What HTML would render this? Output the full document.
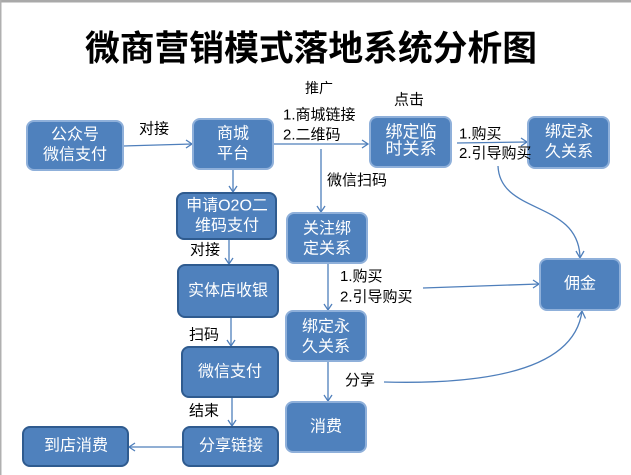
<!DOCTYPE html>
<html>
<head>
<meta charset="utf-8">
<style>
  html,body{margin:0;padding:0;background:#fff;}
  body{width:631px;height:475px;overflow:hidden;}
  svg{display:block;}
  .bx{fill:#4f81bd;}
  .glow{stroke:#8fb0da;stroke-width:2;}
  .dark{stroke:#2f5b8f;stroke-width:2;}
  .bt{fill:#fff;font-family:"Liberation Sans","Noto Sans CJK SC",sans-serif;font-size:16px;}
  .lb{fill:#000;font-family:"Liberation Sans","Noto Sans CJK SC",sans-serif;font-size:15px;}
  .ln{stroke:#4f7fbb;stroke-width:1.3;fill:none;}
</style>
</head>
<body>
<svg width="631" height="475" viewBox="0 0 631 475" xmlns="http://www.w3.org/2000/svg">
  <rect x="0" y="0" width="631" height="475" fill="#fff"/>
  <rect x="0" y="0" width="631" height="2.5" fill="#a9a9a9"/>
  <rect x="0" y="0" width="1.5" height="475" fill="#b0b0b0"/>

  <!-- Title -->
  <text x="85" y="49" dominant-baseline="central" textLength="452" lengthAdjust="spacingAndGlyphs"
        style="font-family:'Liberation Sans','Noto Sans CJK SC',sans-serif;font-size:35px;font-weight:700;fill:#000;">微商营销模式落地系统分析图</text>

  <!-- Connectors -->
  <g class="ln">
    <line x1="123" y1="146" x2="192" y2="144"/>
    <polyline points="186,140 192,144 186,148"/>
    <line x1="273" y1="144" x2="368" y2="144"/>
    <polyline points="362,140 368,144 362,148"/>
    <line x1="457" y1="143" x2="527" y2="142"/>
    <polyline points="521,138 527,142 521,146"/>
    <line x1="321" y1="149" x2="321" y2="212"/>
    <polyline points="317,206 321,212 325,206"/>
    <line x1="233" y1="169" x2="233" y2="192"/>
    <polyline points="229,186 233,192 237,186"/>
    <line x1="229" y1="239" x2="229" y2="264"/>
    <polyline points="225,258 229,264 233,258"/>
    <line x1="231" y1="317" x2="231" y2="346"/>
    <polyline points="227,340 231,346 235,340"/>
    <line x1="232" y1="397" x2="232" y2="426"/>
    <polyline points="228,420 232,426 236,420"/>
    <line x1="183" y1="447" x2="129" y2="447"/>
    <polyline points="135,443 129,447 135,451"/>
    <line x1="328" y1="263" x2="328" y2="310"/>
    <polyline points="324,304 328,310 332,304"/>
    <line x1="328" y1="361" x2="328" y2="401"/>
    <polyline points="324,395 328,401 332,395"/>
    <line x1="423" y1="288" x2="539" y2="284"/>
    <polyline points="533,280 539,284 533,288"/>
    <path d="M498,166 C500,215 578,200 580,257"/>
    <polyline points="576,251 580,258 584,251"/>
    <path d="M384,382 C500,385 575,365 582,311"/>
    <polyline points="577.5,317.5 582,311 585.5,318.5"/>
  </g>

  <!-- Boxes (glow style) -->
  <rect class="bx glow" x="27" y="121" width="96" height="49" rx="7"/>
  <rect class="bx glow" x="193" y="119" width="80" height="50" rx="7"/>
  <rect class="bx glow" x="370" y="117" width="81" height="50" rx="7"/>
  <rect class="bx glow" x="528" y="117" width="81" height="51" rx="7"/>
  <rect class="bx glow" x="287" y="213" width="80" height="50" rx="7"/>
  <rect class="bx glow" x="286" y="311" width="80" height="50" rx="7"/>
  <rect class="bx glow" x="286" y="402" width="80" height="50" rx="7"/>
  <rect class="bx glow" x="540" y="259" width="80" height="51" rx="7"/>
  <!-- Boxes (dark border) -->
  <rect class="bx dark" x="177" y="193" width="99" height="46" rx="7"/>
  <rect class="bx dark" x="178" y="265" width="100" height="52" rx="7"/>
  <rect class="bx dark" x="182" y="347" width="96" height="50" rx="7"/>
  <rect class="bx dark" x="183" y="427" width="95" height="39" rx="7"/>
  <rect class="bx dark" x="23" y="427" width="105" height="39" rx="7"/>

  <!-- Box texts -->
  <g class="bt" text-anchor="middle" dominant-baseline="central">
    <text x="75" y="135">公众号</text>
    <text x="75" y="155">微信支付</text>
    <text x="233" y="134">商城</text>
    <text x="233" y="154">平台</text>
    <text x="411" y="132" style="font-size:17px">绑定临</text>
    <text x="411" y="149" style="font-size:17px">时关系</text>
    <text x="569" y="132">绑定永</text>
    <text x="569" y="152">久关系</text>
    <text x="227" y="206">申请O2O二</text>
    <text x="227" y="226">维码支付</text>
    <text x="228" y="291">实体店收银</text>
    <text x="230" y="372">微信支付</text>
    <text x="231" y="446">分享链接</text>
    <text x="76" y="446">到店消费</text>
    <text x="327" y="229">关注绑</text>
    <text x="327" y="249">定关系</text>
    <text x="326" y="327">绑定永</text>
    <text x="326" y="347">久关系</text>
    <text x="326" y="427">消费</text>
    <text x="580" y="284">佣金</text>
  </g>

  <!-- Labels -->
  <g class="lb" dominant-baseline="central">
    <text x="139" y="129">对接</text>
    <text x="305" y="88" style="font-size:14px">推广</text>
    <text x="394" y="100">点击</text>
    <text x="283" y="115">1.商城链接</text>
    <text x="283" y="135">2.二维码</text>
    <text x="459" y="134">1.购买</text>
    <text x="459" y="153.5">2.引导购买</text>
    <text x="327" y="180.5">微信扫码</text>
    <text x="190" y="250">对接</text>
    <text x="189" y="335">扫码</text>
    <text x="189" y="411">结束</text>
    <text x="340" y="276.5">1.购买</text>
    <text x="340" y="297">2.引导购买</text>
    <text x="345" y="380.5">分享</text>
  </g>
</svg>
</body>
</html>
